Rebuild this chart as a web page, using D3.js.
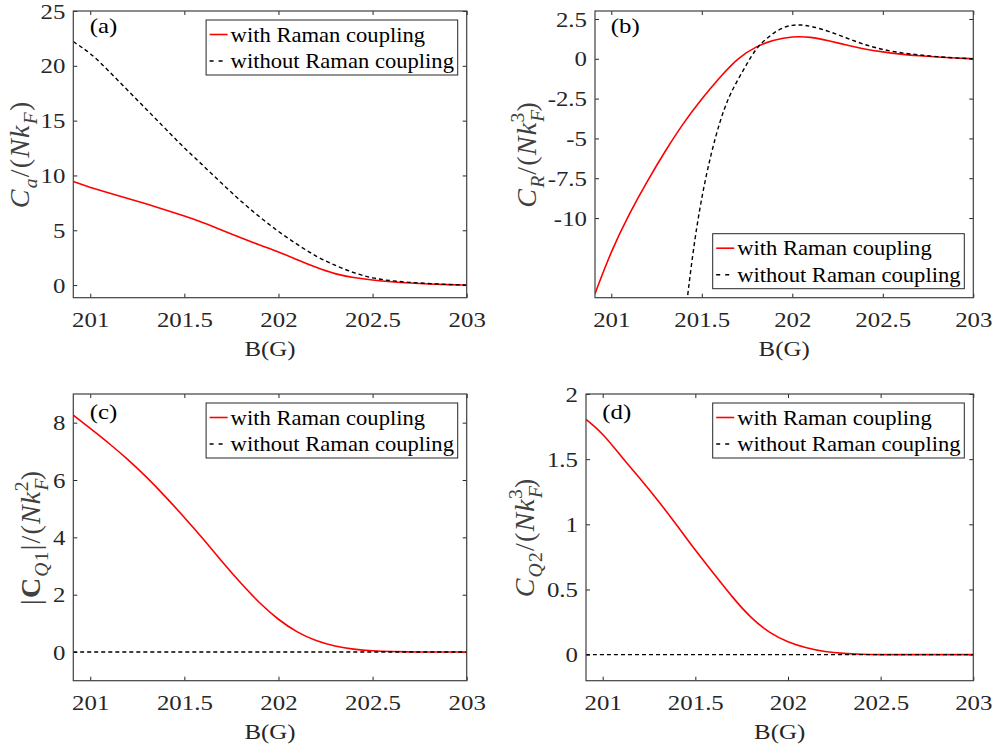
<!DOCTYPE html>
<html>
<head>
<meta charset="utf-8">
<script src="https://cdn.jsdelivr.net/npm/d3@7"></script>
<style>
  body { margin: 0; background: #fff; }
  svg text { font-family: "Liberation Serif", "Times New Roman", serif; }
</style>
</head>
<body>
<div id="holder"></div>
<script>
// DATA
const bGrid = [200.91, 201.0, 201.1, 201.2, 201.3, 201.4, 201.5, 201.6, 201.7, 201.8, 201.9,
               202.0, 202.1, 202.2, 202.3, 202.4, 202.5, 202.6, 202.7, 202.8, 202.9, 203.0];

const caWith    = [9.44, 8.9, 8.4, 7.9, 7.4, 6.85, 6.3, 5.7, 5.0, 4.3, 3.65, 3.05, 2.3, 1.6, 1.0, 0.68, 0.46, 0.3, 0.18, 0.1, 0.04, 0.0];
const caWithout = [22.2, 21.2, 19.5, 17.75, 16.0, 14.25, 12.49, 10.9, 9.25, 7.65, 6.2, 4.87, 3.7, 2.6, 1.8, 1.1, 0.62, 0.38, 0.24, 0.14, 0.05, 0.0];

const crWith = [-14.75, -12.05, -9.7, -7.65, -5.75, -4.0, -2.5, -1.15, 0.07, 0.78, 1.2, 1.4, 1.38, 1.14, 0.86, 0.6, 0.43, 0.29, 0.18, 0.11, 0.05, 0.0];
// the curve without coupling only enters the frame near 201.4
const crWithoutB = [201.4, 201.45, 201.5, 201.55, 201.6, 201.65, 201.7, 201.75, 201.8, 201.85, 201.9, 201.95,
                    202.0, 202.05, 202.1, 202.2, 202.3, 202.4, 202.5, 202.6, 202.7, 202.8, 202.9, 203.0];
const crWithout  = [-17.0, -12.1, -8.6, -6.0, -3.9, -2.35, -1.3, -0.3, 0.65, 1.2, 1.65, 1.98,
                    2.12, 2.13, 2.06, 1.74, 1.3, 0.88, 0.57, 0.37, 0.24, 0.13, 0.05, 0.0];

const cq1With    = [8.26, 7.8, 7.28, 6.72, 6.1, 5.42, 4.7, 3.95, 3.15, 2.4, 1.7, 1.12, 0.68, 0.38, 0.2, 0.09, 0.04, 0.015, 0.005, 0, 0, 0];
const cq1Without = [0, 0, 0, 0, 0, 0, 0, 0, 0, 0, 0, 0, 0, 0, 0, 0, 0, 0, 0, 0, 0, 0];

const cq2With    = [1.805, 1.70, 1.52, 1.355, 1.18, 0.995, 0.80, 0.62, 0.44, 0.28, 0.165, 0.095, 0.05, 0.022, 0.008, 0.002, 0, 0, 0, 0, 0, 0];
const cq2Without = [0, 0, 0, 0, 0, 0, 0, 0, 0, 0, 0, 0, 0, 0, 0, 0, 0, 0, 0, 0, 0, 0];

const xTicks = [201, 201.5, 202, 202.5, 203];
const seriesNames = ["with Raman coupling", "without Raman coupling"];

const w = 995;
const h = 749;
const sx = 1.13;          // text in the original is slightly stretched sideways
const ink = "#262626";

const svg = d3.select("#holder")
    .append("svg")
    .attr("width", w)
    .attr("height", h);

// label parts: [text, italic/bold/"" , shift(1 sub, -1 sup), dx]
const panels = [
    { tag: "(a)", left: 73.3, right: 466.7, top: 11, bottom: 297.7,
      yDomain: [-1.15, 25], yTicks: [0, 5, 10, 15, 20, 25],
      withX: bGrid, withY: caWith, withoutX: bGrid, withoutY: caWithout,
      legendAt: "top", labelX: 29, tagDy: 22,
      ylabel: [["C", "i", 0], ["a", "i", 1], ["/(", "", 0], ["Nk", "i", 0], ["F", "i", 1], [")", "", 0]] },
    { tag: "(b)", left: 595, right: 973.3, top: 11, bottom: 297.7,
      yDomain: [-15, 3], yTicks: [2.5, 0, -2.5, -5, -7.5, -10],
      withX: bGrid, withY: crWith, withoutX: crWithoutB, withoutY: crWithout,
      legendAt: "bottom", labelX: 536, tagDy: 22,
      ylabel: [["C", "i", 0], ["R", "i", 1], ["/(", "", 0], ["Nk", "i", 0], ["F", "i", 1], ["3", "", -1, -14], [")", "", 0]] },
    { tag: "(c)", left: 73.3, right: 466.7, top: 394, bottom: 680.7,
      yDomain: [-1, 9], yTicks: [0, 2, 4, 6, 8],
      withX: bGrid, withY: cq1With, withoutX: bGrid, withoutY: cq1Without,
      legendAt: "top", labelX: 40, tagDy: 25,
      ylabel: [["|", "", 0], ["C", "b", 0], ["Q", "i", 1], ["1", "", 1], ["|/(", "", 0], ["Nk", "i", 0], ["F", "i", 1], ["2", "", -1, -14], [")", "", 0]] },
    { tag: "(d)", left: 586, right: 973.3, top: 394, bottom: 680.7,
      yDomain: [-0.2, 2], yTicks: [0, 0.5, 1, 1.5, 2],
      withX: bGrid, withY: cq2With, withoutX: bGrid, withoutY: cq2Without,
      legendAt: "top", labelX: 534, tagDy: 25,
      ylabel: [["C", "i", 0], ["Q", "i", 1], ["2", "", 1], ["/(", "", 0], ["Nk", "i", 0], ["F", "i", 1], ["3", "", -1, -14], [")", "", 0]] }
];

function fmt(d) {
    return String(d);
}

panels.forEach((p, i) => {
    const x = d3.scaleLinear().domain([200.91, 203]).range([p.left, p.right]);
    const y = d3.scaleLinear().domain(p.yDomain).range([p.bottom, p.top]);
    const g = svg.append("g").attr("class", "panel");

    // CLIP
    const clipId = "clip" + i;
    svg.append("clipPath").attr("id", clipId)
        .append("rect")
        .attr("x", p.left).attr("y", p.top)
        .attr("width", p.right - p.left).attr("height", p.bottom - p.top);

    // AXES
    const left = g.append("g")
        .attr("transform", "translate(" + p.left + ",0)")
        .call(d3.axisLeft(y).tickValues(p.yTicks).tickFormat(fmt).tickSizeInner(-4).tickSizeOuter(0).tickPadding(7));
    const bottom = g.append("g")
        .attr("transform", "translate(0," + p.bottom + ")")
        .call(d3.axisBottom(x).tickValues(xTicks).tickFormat(fmt).tickSizeInner(-4).tickSizeOuter(0).tickPadding(14));
    const right = g.append("g")
        .attr("transform", "translate(" + p.right + ",0)")
        .call(d3.axisRight(y).tickValues(p.yTicks).tickSizeInner(-4).tickSizeOuter(0));
    const top = g.append("g")
        .attr("transform", "translate(0," + p.top + ")")
        .call(d3.axisTop(x).tickValues(xTicks).tickSizeInner(-4).tickSizeOuter(0));

    [left, bottom, right, top].forEach(a => {
        a.select(".domain").remove();
        a.selectAll("line").attr("stroke", ink).attr("stroke-width", 1);
    });
    right.selectAll("text").remove();
    top.selectAll("text").remove();
    [left, bottom].forEach(a => {
        a.attr("font-family", null).attr("font-size", null);
        a.selectAll("text")
            .attr("fill", ink)
            .attr("font-size", 22)
            .attr("transform", "scale(" + sx + ",1)");
    });
    left.selectAll("text").attr("x", -8 / sx);

    // LINES
    const line = d3.line()
        .x(d => x(d[0]))
        .y(d => y(d[1]))
        .curve(d3.curveBasis);

    const lines = g.append("g").attr("clip-path", "url(#" + clipId + ")");
    lines.append("path")
        .datum(p.withX.map((b, k) => [b, p.withY[k]]))
        .attr("d", line)
        .attr("fill", "none")
        .attr("stroke", "#ff0000")
        .attr("stroke-width", 1.6);
    lines.append("path")
        .datum(p.withoutX.map((b, k) => [b, p.withoutY[k]]))
        .attr("d", line)
        .attr("fill", "none")
        .attr("stroke", "#000")
        .attr("stroke-width", 1.4)
        .attr("stroke-dasharray", "4,3");

    // BOX
    g.append("rect")
        .attr("x", p.left).attr("y", p.top)
        .attr("width", p.right - p.left).attr("height", p.bottom - p.top)
        .attr("fill", "none")
        .attr("stroke", "#404040")
        .attr("stroke-width", 1.2);

    // PANEL TAG
    g.append("text")
        .attr("transform", "translate(" + (x(201) - 0.5) + "," + (p.top + p.tagDy) + ") scale(" + sx + ",1)")
        .attr("font-size", 22)
        .attr("fill", "#000")
        .text(p.tag);

    // X LABEL
    g.append("text")
        .attr("transform", "translate(" + ((p.left + p.right) / 2) + "," + (p.bottom + 58) + ") scale(" + sx + ",1)")
        .attr("text-anchor", "middle")
        .attr("font-size", 22)
        .attr("fill", ink)
        .text("B(G)");

    // Y LABEL
    const fs = 28;
    const lab = g.append("text")
        .attr("transform", "translate(" + p.labelX + "," + ((p.top + p.bottom) / 2) + ") rotate(-90)")
        .attr("text-anchor", "middle")
        .attr("font-size", fs)
        .attr("letter-spacing", 1.2)
        .attr("fill", "#404040");
    let shift = 0;
    p.ylabel.forEach(part => {
        const s = part[2];
        const off = v => (v === 1 ? 0.28 * fs : v === -1 ? -0.42 * fs : 0);
        const t = lab.append("tspan")
            .attr("dy", off(s) - off(shift))
            .attr("font-size", s === 0 ? fs : fs * 0.7)
            .text(part[0]);
        if (part[1] === "i") t.attr("font-style", "italic");
        if (part[1] === "b") t.attr("font-weight", "bold");
        if (part[3]) t.attr("dx", part[3]);
        shift = s;
    });

    // LEGEND
    const lw = 251.6, lh = 55;
    const lx = p.right - 9 - lw;
    const ly = p.legendAt === "top" ? p.top + 9 : p.bottom - 9 - lh;
    const leg = g.append("g").attr("transform", "translate(" + lx + "," + ly + ")");
    leg.append("rect")
        .attr("width", lw).attr("height", lh)
        .attr("fill", "#fff")
        .attr("stroke", ink)
        .attr("stroke-width", 1);
    const rows = [14.5, 41];
    leg.append("line")
        .attr("x1", 3.5).attr("x2", 21.5).attr("y1", rows[0]).attr("y2", rows[0])
        .attr("stroke", "#ff0000").attr("stroke-width", 1.6);
    leg.append("line")
        .attr("x1", 3.5).attr("x2", 21.5).attr("y1", rows[1]).attr("y2", rows[1])
        .attr("stroke", "#000").attr("stroke-width", 1.4).attr("stroke-dasharray", "4,5");
    seriesNames.forEach((name, k) => {
        leg.append("text")
            .attr("transform", "translate(24.5," + (rows[k] + 7) + ") scale(" + sx + ",1)")
            .attr("font-size", 20)
            .attr("fill", "#000")
            .text(name);
    });
});
</script>
</body>
</html>
